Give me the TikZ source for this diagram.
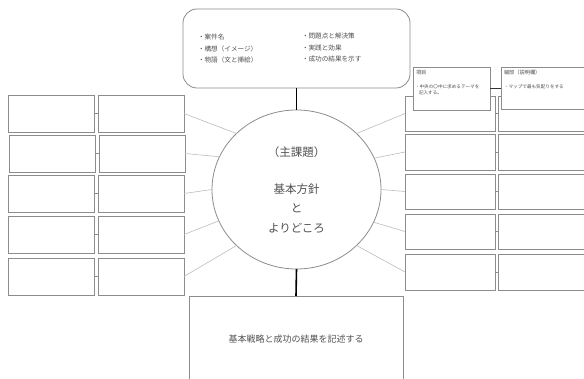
\documentclass[tikz,border=0pt]{standalone}
\usepackage{fontspec}
\setmainfont{Noto Sans CJK JP}
\usetikzlibrary{shapes.geometric}
\definecolor{boxc}{HTML}{8C8C8C}
\definecolor{connc}{HTML}{BDBDBD}
\definecolor{txtc}{HTML}{505050}
\tikzset{
  cell/.style={draw=boxc, line width=0.8pt, fill=white, inner sep=0pt, outer sep=0pt, anchor=north west, minimum width=86, minimum height=37},
  wcell/.style={cell, minimum width=92},
  conn/.style={draw=connc, line width=0.6pt},
  link/.style={draw=boxc, line width=0.6pt},
  spine/.style={draw=black, line width=1.6pt},
  txt/.style={text=txtc, inner sep=0pt, outer sep=0pt},
  note/.style={draw=boxc, line width=0.8pt, fill=white, inner sep=0pt, outer sep=0pt, anchor=north west}
}
\begin{document}
\begin{tikzpicture}[x=1pt,y=-1pt]
\useasboundingbox (0,0) rectangle (584,379);
\clip (0,0) rectangle (584,379);
\fill[white] (0,0) rectangle (584,379);

% top box
\node[draw=boxc, line width=0.8pt, rounded corners=14pt, anchor=north west, minimum width=227, minimum height=79, inner sep=0pt, outer sep=0pt] (T) at (183,9) {};
\node[txt, anchor=west, font=\fontsize{6.6}{8}\selectfont] (t1) at (198,37) {・案件名};
\node[txt, anchor=west, font=\fontsize{6.6}{8}\selectfont] (t2) at (198,48.5) {・構想（イメージ）};
\node[txt, anchor=west, font=\fontsize{6.6}{8}\selectfont] (t3) at (198,59.5) {・物語（文と挿絵）};
\node[txt, anchor=west, font=\fontsize{6.6}{8}\selectfont] (t4) at (302,35.5) {・問題点と解決策};
\node[txt, anchor=west, font=\fontsize{6.6}{8}\selectfont] (t5) at (302,47.5) {・実践と効果};
\node[txt, anchor=west, font=\fontsize{6.6}{8}\selectfont] (t6) at (302,59.5) {・成功の結果を示す};

% circle
\node[draw=boxc, line width=0.8pt, ellipse, minimum width=169, minimum height=159, inner sep=0pt, outer sep=0pt] (C) at (296.5,189.5) {};
\node[txt, font=\fontsize{11.5}{13}\selectfont] (c1) at (296.5,152) {（主課題）};
\node[txt, font=\fontsize{11.5}{13}\selectfont] (c2) at (296.5,189) {基本方針};
\node[txt, font=\fontsize{11.5}{13}\selectfont] (c3) at (296.5,208) {と};
\node[txt, font=\fontsize{11.5}{13}\selectfont] (c4) at (296.5,228) {よりどころ};

% bottom box
\node[draw=boxc, line width=0.8pt, anchor=north west, minimum width=214, minimum height=100, inner sep=0pt, outer sep=0pt] (B) at (189,296) {};
\node[txt, font=\fontsize{9}{11}\selectfont] (b1) at (296,339) {基本戦略と成功の結果を記述する};

% spines
\draw[spine] (T.south) -- (C.north);
\draw[spine] (C.south) -- (B.north);

% left boxes
\node[cell] (La1) at (8,95) {};   \node[cell] (Lb1) at (98,95) {};
\node[cell] (La2) at (9,135) {};  \node[cell] (Lb2) at (99,135) {};
\node[cell] (La3) at (8,175) {};  \node[cell] (Lb3) at (98,175) {};
\node[cell] (La4) at (8,216) {};  \node[cell] (Lb4) at (98,216) {};
\node[cell] (La5) at (8,258) {};  \node[cell] (Lb5) at (98,258) {};
\foreach \i in {1,...,5} { \draw[link] (La\i.east) -- (Lb\i.west); }
\draw[conn] (Lb1.east) -- (C.137);
\draw[conn] (Lb2.east) -- (C.157.5);
\draw[conn] (Lb3.east) -- (C.180);
\draw[conn] (Lb4.east) -- (C.202.7);
\draw[conn] (Lb5.east) -- (C.223);

% right boxes
\node[cell, minimum width=90, minimum height=35] (Ra1) at (405,96) {};  \node[wcell, minimum height=35] (Rb1) at (498,96) {};
\node[cell, minimum width=90, minimum height=36] (Ra2) at (405,134) {}; \node[wcell, minimum height=36] (Rb2) at (498,134) {};
\node[cell, minimum width=90, minimum height=35] (Ra3) at (405,174) {}; \node[wcell, minimum height=35] (Rb3) at (498,174) {};
\node[cell, minimum width=90, minimum height=35] (Ra4) at (405,214) {}; \node[wcell, minimum height=35] (Rb4) at (498,214) {};
\node[cell, minimum width=90, minimum height=36] (Ra5) at (405,254) {}; \node[wcell, minimum height=36] (Rb5) at (498,254) {};
\foreach \i in {1,...,5} { \draw[link] (Ra\i.east) -- (Rb\i.west); }
\draw[conn] (C.43) -- (Ra1.west);
\draw[conn] (C.22.5) -- (Ra2.west);
\draw[conn] (C.0) -- (Ra3.west);
\draw[conn] (C.337.5) -- (Ra4.west);
\draw[conn] (C.317) -- (Ra5.west);

% notes
\node[note, minimum width=77, minimum height=43] (N1) at (413,67) {};
\node[note, minimum width=90, minimum height=42] (N2) at (501,67) {};
\draw[draw=black!80, line width=0.7pt] (N1.east |- 0,88) coordinate (n1e) -- (N2.west |- 0,88) coordinate (n2w);
\node[txt, anchor=west, font=\fontsize{5.2}{6}\selectfont] (n1t) at (416,73) {項目};
\node[txt, anchor=west, font=\fontsize{4.6}{6}\selectfont] (n1a) at (415,87) {・中央の〇中に求めるテーマを};
\node[txt, anchor=west, font=\fontsize{4.6}{6}\selectfont] (n1b) at (419,93) {記入する。};
\node[txt, anchor=west, font=\fontsize{5.2}{6}\selectfont] (n2t) at (504,73) {細部（説明欄）};
\node[txt, anchor=west, font=\fontsize{4.6}{6}\selectfont] (n2a) at (504,87) {・マップで最も気配りをする};
\end{tikzpicture}
\end{document}
